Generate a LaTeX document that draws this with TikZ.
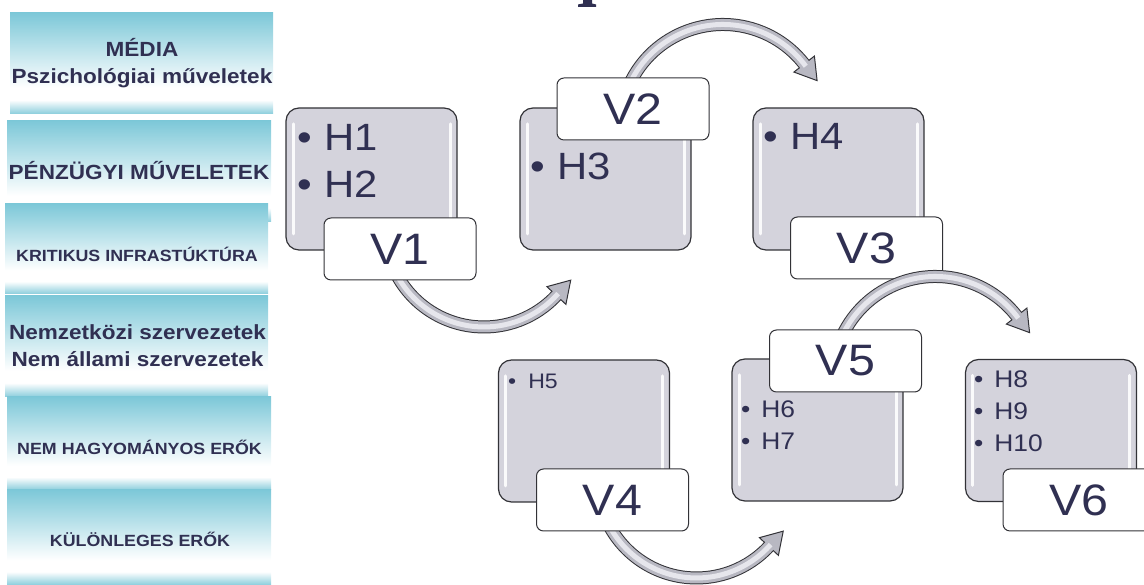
\documentclass[tikz,border=0pt]{standalone}
\usepackage{fontspec}
\setmainfont{Liberation Sans}[FakeStretch=1.1]
\usetikzlibrary{calc}
\definecolor{navy}{RGB}{48,48,82}
\definecolor{pc}{RGB}{125,200,216}
\definecolor{boxfill}{RGB}{212,211,220}
\definecolor{edgec}{RGB}{50,50,55}
\definecolor{arrmid}{RGB}{184,184,194}
\definecolor{arrlight}{RGB}{230,230,236}
\pgfdeclareverticalshading{panelshade}{100bp}{color(0bp)=(pc!90!white); color(25bp)=(pc!90!white); color(32bp)=(white); color(38bp)=(white); color(75bp)=(pc); color(100bp)=(pc)}
\pgfdeclarelayer{top}
\pgfsetlayers{main,top}
\newcommand\curvarr[6]{%
  \draw[edgec, line width=13pt] ($(#1)+(#2:#4)$) arc[start angle=#2, end angle=#3, radius=#4];
  \filldraw[fill=arrmid, draw=edgec, line width=1pt, line join=miter]
    ($(#1)+(#3:#4)+(#3:13)$) -- ($(#1)+(#3:#4)+(#5:21)$) -- ($(#1)+(#3:#4)-(#3:13)$) -- cycle;
  \draw[arrmid, line width=11pt] ($(#1)+(#2:#4)$) arc[start angle=#2, end angle=#6, radius=#4];
  \draw[arrlight, line width=5pt] ($(#1)+(#2:#4)$) arc[start angle=#2, end angle=#6, radius=#4];
}
\begin{document}
\begin{tikzpicture}[x=1pt,y=1pt,
  panel/.style={shading=panelshade, inner sep=0pt, outer sep=0pt, draw=none},
  ptext/.style={text=navy, anchor=base, inner sep=0pt},
  bigp/.style={font=\bfseries\fontsize{20.5}{27}\selectfont},
  smallp/.style={font=\bfseries\fontsize{16.2}{20}\selectfont},
  hbox/.style={draw=edgec, line width=1.2pt, fill=boxfill, rounded corners=13pt,
    minimum width=171pt, minimum height=142pt, inner sep=0pt,
    path picture={
      \draw[white, line width=3pt, line cap=round, opacity=0.9]
        ([xshift=7pt,yshift=-16pt]path picture bounding box.north west) --
        ([xshift=7pt,yshift=16pt]path picture bounding box.south west);
      \draw[white, line width=3pt, line cap=round, opacity=0.9]
        ([xshift=-7pt,yshift=-16pt]path picture bounding box.north east) --
        ([xshift=-7pt,yshift=16pt]path picture bounding box.south east);}},
  vlab/.style={draw=edgec, line width=1pt, fill=white, rounded corners=7pt,
    minimum width=152pt, minimum height=62pt, inner sep=0pt, text=navy,
    font=\fontsize{44}{44}\selectfont},
  btext/.style={text=navy, anchor=base west, inner sep=0pt},
  hbig/.style={font=\fontsize{38}{38}\selectfont},
  hsmall/.style={font=\fontsize{21}{21}\selectfont},
  hmid/.style={font=\fontsize{24}{24}\selectfont}]
\useasboundingbox (0,0) rectangle (1144,585);

% title fragment
\fill[navy] (578,578) -- (596,578) -- (596,580.5) -- (592,581.5) -- (592,585) -- (583,585) -- (583,581.5) -- (578,580.5) -- cycle;

% left panels
\node[panel, minimum width=263pt, minimum height=101pt] (p1) at (141.5,521.5) {};
\node[panel, minimum width=264pt, minimum height=101pt] (p2) at (139,413.5) {};
\node[panel, minimum width=263pt, minimum height=90pt] (p3) at (136.5,336) {};
\node[panel, minimum width=263pt, minimum height=101pt] (p4) at (136.5,238.5) {};
\node[panel, minimum width=264pt, minimum height=93pt] (p5) at (139,141.5) {};
\node[panel, minimum width=264pt, minimum height=95pt] (p6) at (139,47.5) {};

\node[ptext, bigp] (t1a) at (142,528) {MÉDIA};
\node[ptext, bigp] (t1b) at (142,501) {Pszichológiai műveletek};
\node[ptext, bigp] (t2) at (139,405) {PÉNZÜGYI MŰVELETEK};
\node[ptext, smallp] (t3) at (137,323) {KRITIKUS INFRASTÚKTÚRA};
\node[ptext, bigp] (t4a) at (137.5,245) {Nemzetközi szervezetek};
\node[ptext, bigp] (t4b) at (137.5,218) {Nem állami szervezetek};
\node[ptext, smallp] (t5) at (139.5,130) {NEM HAGYOMÁNYOS ERŐK};
\node[ptext, smallp] (t6) at (140,38) {KÜLÖNLEGES ERŐK};

% main boxes
\node[hbox] (B1) at (371.5,406) {};
\node[hbox] (B2) at (605.5,406) {};
\node[hbox] (B3) at (838.5,406) {};
\node[hbox] (B4) at (584,154) {};
\node[hbox] (B5) at (817.5,155) {};
\node[hbox] (B6) at (1051,154.5) {};

\node[btext, hbig] (h1) at (297,434) {\textbullet\hspace{12.5pt}H1};
\node[btext, hbig] (h2) at (297,387) {\textbullet\hspace{12.5pt}H2};
\node[btext, hbig] (h3) at (530,405) {\textbullet\hspace{12.5pt}H3};
\node[btext, hbig] (h4) at (763,435) {\textbullet\hspace{12.5pt}H4};
\node[btext, hsmall] (h5) at (508,196) {\textbullet\hspace{12pt}H5};
\node[btext, hmid] (h6) at (741,167) {\textbullet\hspace{11pt}H6};
\node[btext, hmid] (h7) at (741,135) {\textbullet\hspace{11pt}H7};
\node[btext, hmid] (h8) at (974,197) {\textbullet\hspace{11pt}H8};
\node[btext, hmid] (h9) at (974,165) {\textbullet\hspace{11pt}H9};
\node[btext, hmid] (h10) at (974,133) {\textbullet\hspace{11pt}H10};

% labels under the arrows
\node[vlab] (V3) at (866.5,337) {V3};
\node[vlab] (V6) at (1079,85) {V6};

\begin{pgfonlayer}{top}
\node[vlab] (V1) at (400,336) {V1};
\node[vlab] (V2) at (633,476) {V2};
\node[vlab] (V4) at (612.5,85) {V4};
\node[vlab] (V5) at (845.5,224) {V5};
\end{pgfonlayer}

% curved arrows
\coordinate (c1) at ($(V1.south)+(84,52.5)$);
\coordinate (c2) at ($(V2.north)+(90,-50)$);
\coordinate (c4) at ($(V4.south)+(84,52.5)$);
\coordinate (c5) at ($(V5.north)+(90,-50)$);
\curvarr{c1}{205}{317}{99}{47}{318.5}
\curvarr{c2}{158}{38}{103}{-52}{36.5}
\curvarr{c4}{205}{317}{99}{47}{318.5}
\curvarr{c5}{158}{38}{103}{-52}{36.5}
\end{tikzpicture}
\end{document}
